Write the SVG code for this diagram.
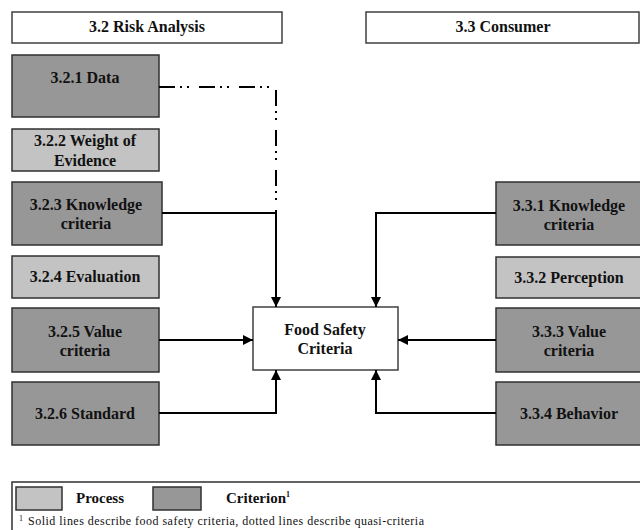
<svg xmlns="http://www.w3.org/2000/svg" width="640" height="530" viewBox="0 0 640 530">
<style>
.hdr{fill:#fff;stroke:#404040;stroke-width:1.5}
.crit{fill:#979797;stroke:#303030;stroke-width:1.5}
.proc{fill:#c3c3c3;stroke:#303030;stroke-width:1.5}
.ctr{fill:#fff;stroke:#404040;stroke-width:1.5}
.t{font-family:"Liberation Serif","Times New Roman",serif;font-weight:bold;font-size:16px;fill:#111;text-anchor:middle}
.lt{font-family:"Liberation Serif","Times New Roman",serif;font-weight:bold;font-size:15px;fill:#111}
.fn{font-family:"Liberation Serif","Times New Roman",serif;font-size:12px;fill:#111}
.ln{fill:none;stroke:#000;stroke-width:2}
.dd{fill:none;stroke:#000;stroke-width:2;stroke-dasharray:16 5 2 5 2 10}
</style>
<defs>
<marker id="ah" viewBox="0 0 10 10" refX="10" refY="5" markerWidth="5" markerHeight="5" orient="auto" markerUnits="strokeWidth">
<path d="M0,0 L10,5 L0,10 Z" fill="#000"/>
</marker>
</defs>
<g id="header-risk"><rect class="hdr" x="12" y="12" width="270" height="31"/><text class="t" x="147" y="32">3.2 Risk Analysis</text></g>
<g id="header-consumer"><rect class="hdr" x="366" y="12" width="273" height="31"/><text class="t" x="503" y="32">3.3 Consumer</text></g>
<g id="n321"><rect class="crit" x="12" y="55" width="147" height="62"/><text class="t" x="85" y="83">3.2.1 Data</text></g>
<g id="n322"><rect class="proc" x="12" y="129" width="147" height="42"/><text class="t" x="85" y="146">3.2.2 Weight of</text><text class="t" x="85" y="166">Evidence</text></g>
<g id="n323"><rect class="crit" x="12" y="182" width="150" height="63"/><text class="t" x="86" y="210">3.2.3 Knowledge</text><text class="t" x="86" y="229">criteria</text></g>
<g id="n324"><rect class="proc" x="12" y="256" width="147" height="42"/><text class="t" x="85" y="282">3.2.4 Evaluation</text></g>
<g id="n325"><rect class="crit" x="12" y="308" width="147" height="64"/><text class="t" x="85" y="337">3.2.5 Value</text><text class="t" x="85" y="356">criteria</text></g>
<g id="n326"><rect class="crit" x="12" y="382" width="147" height="63"/><text class="t" x="85" y="419">3.2.6 Standard</text></g>
<g id="food"><rect class="ctr" x="253" y="307" width="145" height="63"/><text class="t" x="325" y="335">Food Safety</text><text class="t" x="325" y="354">Criteria</text></g>
<g id="n331"><rect class="crit" x="496" y="182" width="146" height="63"/><text class="t" x="569" y="211">3.3.1 Knowledge</text><text class="t" x="569" y="230">criteria</text></g>
<g id="n332"><rect class="proc" x="496" y="257" width="146" height="41"/><text class="t" x="569" y="283">3.3.2 Perception</text></g>
<g id="n333"><rect class="crit" x="496" y="308" width="146" height="64"/><text class="t" x="569" y="337">3.3.3 Value</text><text class="t" x="569" y="356">criteria</text></g>
<g id="n334"><rect class="crit" x="496" y="382" width="146" height="63"/><text class="t" x="569" y="419">3.3.4 Behavior</text></g>
<g id="connectors">
<path class="dd" d="M159,87 H276 V213"/>
<path class="ln" d="M162,213 H276 V307" marker-end="url(#ah)"/>
<path class="ln" d="M159,340 H253" marker-end="url(#ah)"/>
<path class="ln" d="M159,413 H276 V370" marker-end="url(#ah)"/>
<path class="ln" d="M496,213 H376 V307" marker-end="url(#ah)"/>
<path class="ln" d="M496,340 H398" marker-end="url(#ah)"/>
<path class="ln" d="M496,413 H376 V370" marker-end="url(#ah)"/>
</g>
<g id="legend">
<rect x="12" y="482" width="630" height="50" fill="#fff" stroke="#303030" stroke-width="1.5"/>
<rect class="proc" x="16" y="487" width="46" height="23"/>
<text class="lt" x="76" y="503">Process</text>
<rect class="crit" x="153" y="487" width="48" height="23"/>
<text class="lt" x="226" y="503">Criterion<tspan font-size="8" dy="-6">1</tspan></text>
<text class="fn" x="19" y="525"><tspan font-size="8" dy="-4">1</tspan><tspan dy="4" x="28" textLength="396" lengthAdjust="spacing">Solid lines  describe food safety criteria,  dotted lines  describe quasi-criteria</tspan></text>
</g>
</svg>
